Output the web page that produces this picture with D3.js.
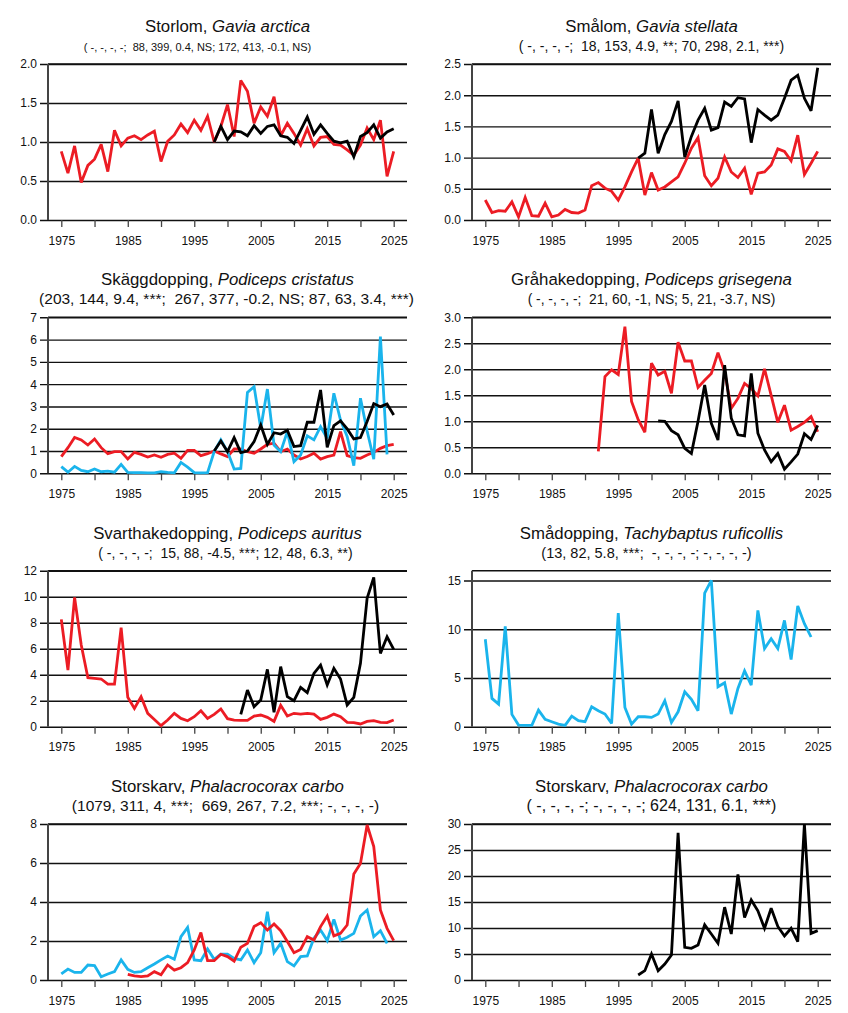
<!DOCTYPE html>
<html>
<head>
<meta charset="utf-8">
<script src="https://cdn.jsdelivr.net/npm/d3@7"></script>
<style>
  body { margin: 0; background: #fff; }
  svg { font-family: "Liberation Sans", Arial, sans-serif; }
  .sub { white-space: pre; }
</style>
</head>
<body>
<svg id="chart"></svg>
<script>
// colours used in the figure
const RED = "#ec1c24";
const BLUE = "#1ab4ec";
const BLACK = "#000";

// x ticks (every 5 years, labels every 10)
const xTicks = [1975, 1980, 1985, 1990, 1995, 2000, 2005, 2010, 2015, 2020, 2025];

// Storlom, Gavia arctica
const storlomRed = [0.88, 0.60, 0.95, 0.48, 0.70, 0.78, 0.97, 0.62, 1.15, 0.95, 1.05, 1.08, 1.03, 1.09, 1.14, 0.75, 1.01, 1.09, 1.23, 1.12, 1.28, 1.15, 1.33, 1.00, 1.20, 1.48, 1.07, 1.79, 1.65, 1.24, 1.45, 1.33, 1.58, 1.08, 1.24, 1.11, 0.96, 1.17, 0.95, 1.06, 1.07, 0.97, 0.96, 0.90, 0.83, 0.96, 1.18, 1.03, 1.28, 0.56, 0.88]; // 1975-
const storlomBlack = [1.00, 1.20, 1.03, 1.14, 1.13, 1.08, 1.21, 1.11, 1.20, 1.22, 1.08, 1.06, 0.98, 1.15, 1.32, 1.10, 1.22, 1.11, 1.01, 0.99, 1.01, 0.81, 1.07, 1.12, 1.22, 1.05, 1.13, 1.17]; // 1998-
const storlomTicks = [0, 0.5, 1, 1.5, 2];

// Smålom, Gavia stellata
const smalomRed = [0.32, 0.12, 0.15, 0.14, 0.29, 0.05, 0.36, 0.07, 0.06, 0.27, 0.05, 0.08, 0.17, 0.12, 0.11, 0.16, 0.55, 0.60, 0.51, 0.46, 0.32, 0.53, 0.77, 0.99, 0.40, 0.76, 0.48, 0.53, 0.61, 0.69, 0.91, 1.15, 1.32, 0.71, 0.55, 0.67, 1.01, 0.77, 0.68, 0.83, 0.41, 0.75, 0.77, 0.88, 1.14, 1.10, 0.95, 1.36, 0.73, 0.91, 1.10]; // 1975-
const smalomBlack = [0.99, 1.07, 1.77, 1.07, 1.37, 1.58, 1.91, 1.01, 1.34, 1.60, 1.79, 1.44, 1.48, 1.89, 1.82, 1.96, 1.94, 1.24, 1.77, 1.68, 1.60, 1.68, 1.95, 2.24, 2.32, 1.95, 1.75, 2.44]; // 1998-
const smalomTicks = [0, 0.5, 1, 1.5, 2, 2.5];

// Skäggdopping, Podiceps cristatus
const skaggRed = [0.75, 1.15, 1.61, 1.50, 1.27, 1.54, 1.15, 0.88, 0.97, 0.97, 0.64, 0.94, 0.85, 0.73, 0.82, 0.72, 0.85, 0.90, 0.67, 1.03, 1.03, 0.79, 0.88, 1.00, 0.87, 0.75, 1.09, 1.09, 0.97, 0.90, 1.09, 1.30, 1.35, 0.97, 1.09, 0.82, 0.64, 0.75, 0.90, 0.64, 0.75, 0.82, 1.87, 0.79, 0.70, 0.67, 0.82, 0.94, 1.12, 1.24, 1.30]; // 1975-
const skaggBlue = [0.30, 0.05, 0.31, 0.13, 0.07, 0.19, 0.07, 0.10, 0.05, 0.40, 0.04, 0.03, 0.03, 0.02, 0.02, 0.07, 0.04, 0.02, 0.49, 0.28, 0.03, 0.02, 0.03, 0.97, 1.50, 0.97, 0.19, 0.22, 3.63, 3.89, 2.02, 3.78, 1.27, 0.97, 1.87, 0.52, 0.82, 1.68, 1.50, 2.09, 1.57, 3.59, 2.39, 1.65, 0.34, 3.37, 1.90, 0.63, 6.13, 0.85]; // 1975-
const skaggBlack = [1.00, 1.45, 0.97, 1.60, 0.93, 1.00, 1.42, 2.17, 1.30, 1.82, 1.76, 1.93, 1.20, 1.24, 2.29, 2.29, 3.74, 1.17, 2.14, 2.35, 1.99, 1.54, 1.60, 2.32, 3.13, 2.99, 3.11, 2.62]; // 1998-
const skaggTicks = [0, 1, 2, 3, 4, 5, 6, 7];

// Gråhakedopping, Podiceps grisegena
const grahakeRed = [0.42, 1.86, 1.99, 1.90, 2.82, 1.38, 1.03, 0.79, 2.12, 1.89, 1.96, 1.54, 2.52, 2.16, 2.16, 1.65, 1.79, 1.92, 2.32, 1.95, 1.25, 1.44, 1.73, 1.63, 1.49, 2.01, 1.50, 0.98, 1.31, 0.83, 0.90, 0.98, 1.09, 0.80]; // 1992-
const grahakeBlack = [1.01, 1.00, 0.82, 0.74, 0.48, 0.38, 1.00, 1.70, 0.96, 0.64, 2.08, 1.06, 0.74, 0.72, 1.92, 0.77, 0.45, 0.22, 0.38, 0.08, 0.22, 0.37, 0.76, 0.65, 0.92]; // 2001-
const grahakeTicks = [0, 0.5, 1, 1.5, 2, 2.5, 3];

// Svarthakedopping, Podiceps auritus
const svartRed = [8.26, 4.36, 9.95, 6.28, 3.77, 3.72, 3.67, 3.28, 3.28, 7.62, 2.26, 1.41, 2.31, 1.03, 0.56, 0.08, 0.51, 1.03, 0.64, 0.46, 0.77, 1.23, 0.64, 0.95, 1.36, 0.62, 0.51, 0.49, 0.49, 0.82, 0.90, 0.72, 0.41, 1.64, 0.82, 1.03, 0.97, 1.03, 0.97, 0.56, 0.72, 0.97, 0.77, 0.33, 0.31, 0.21, 0.41, 0.46, 0.33, 0.31, 0.51]; // 1975-
const svartBlack = [0.95, 2.82, 1.54, 2.05, 4.41, 1.10, 4.62, 2.31, 2.00, 3.03, 2.62, 4.10, 4.74, 3.21, 4.49, 3.67, 1.67, 2.26, 4.87, 9.87, 11.49, 5.64, 6.92, 5.95]; // 2002-
const svartTicks = [0, 2, 4, 6, 8, 10, 12];

// Smådopping, Tachybaptus ruficollis
const smadopBlue = [8.97, 2.90, 2.32, 10.3, 1.26, 0.17, 0.14, 0.14, 1.70, 0.75, 0.51, 0.27, 0.14, 1.09, 0.61, 0.51, 2.05, 1.64, 1.30, 0.34, 11.66, 1.98, 0.27, 1.02, 1.02, 0.95, 1.30, 2.66, 0.44, 1.53, 3.58, 2.80, 1.64, 13.7, 15.0, 4.09, 4.50, 1.30, 3.92, 5.73, 4.26, 11.93, 8.01, 9.03, 8.01, 10.9, 6.89, 12.38, 10.57, 9.20]; // 1975-
const smadopTicks = [0, 5, 10, 15];

// Storskarv, Phalacrocorax carbo (left)
const skarvBlue = [0.31, 0.56, 0.39, 0.39, 0.77, 0.74, 0.17, 0.31, 0.43, 1.03, 0.55, 0.39, 0.43, 0.63, 0.82, 1.03, 1.23, 1.06, 2.22, 2.70, 1.03, 0.99, 1.59, 1.06, 1.33, 1.32, 1.11, 1.03, 1.54, 0.89, 1.40, 3.50, 1.40, 1.88, 0.94, 0.72, 1.20, 1.23, 2.14, 2.56, 2.02, 3.11, 2.05, 2.19, 2.39, 3.28, 3.59, 2.22, 2.53, 1.88]; // 1975-
const skarvRed = [0.29, 0.21, 0.17, 0.21, 0.43, 0.27, 0.77, 0.51, 0.63, 0.89, 1.54, 2.43, 0.99, 0.99, 1.32, 1.20, 0.97, 1.68, 1.88, 2.74, 2.94, 2.56, 2.87, 2.53, 1.97, 1.40, 1.57, 2.22, 2.05, 2.74, 3.28, 2.26, 2.39, 2.82, 5.44, 5.98, 7.95, 6.84, 3.59, 2.65, 2.02]; // 1985-
const skarvTicks = [0, 2, 4, 6, 8];

// Storskarv, Phalacrocorax carbo (right)
const skarv2Black = [0.96, 1.79, 5.0, 1.79, 3.08, 4.8, 28.3, 6.28, 6.09, 6.73, 10.6, 8.85, 7.05, 14.0, 8.85, 20.3, 12.0, 15.4, 13.3, 9.94, 13.8, 10.3, 8.46, 9.94, 7.37, 30.0, 8.97, 9.49]; // 1998-
const skarv2Ticks = [0, 5, 10, 15, 20, 25, 30];

const panels = [
  { name: "Storlom", latin: "Gavia arctica", stats: "( -, -, -, -;  88, 399, 0.4, NS; 172, 413, -0.1, NS)", subDx: -30, subSize: 11,
    yMax: 2, ticks: storlomTicks, fmt: ".1f",
    series: [{ start: 1975, values: storlomRed, color: RED }, { start: 1998, values: storlomBlack, color: BLACK }] },
  { name: "Smålom", latin: "Gavia stellata", stats: "( -, -, -, -;  18, 153, 4.9, **; 70, 298, 2.1, ***)", subDx: 0, subSize: 14,
    yMax: 2.5, ticks: smalomTicks, fmt: ".1f",
    series: [{ start: 1975, values: smalomRed, color: RED }, { start: 1998, values: smalomBlack, color: BLACK }] },
  { name: "Skäggdopping", latin: "Podiceps cristatus", stats: "(203, 144, 9.4, ***;  267, 377, -0.2, NS; 87, 63, 3.4, ***)", subDx: -1, subSize: 15.5,
    yMax: 7, ticks: skaggTicks, fmt: "d",
    series: [{ start: 1975, values: skaggRed, color: RED }, { start: 1975, values: skaggBlue, color: BLUE }, { start: 1998, values: skaggBlack, color: BLACK }] },
  { name: "Gråhakedopping", latin: "Podiceps grisegena", stats: "( -, -, -, -;  21, 60, -1, NS; 5, 21, -3.7, NS)", subDx: 0, subSize: 13.8,
    yMax: 3, ticks: grahakeTicks, fmt: ".1f",
    series: [{ start: 1992, values: grahakeRed, color: RED }, { start: 2001, values: grahakeBlack, color: BLACK }] },
  { name: "Svarthakedopping", latin: "Podiceps auritus", stats: "( -, -, -, -;  15, 88, -4.5, ***; 12, 48, 6.3, **)", subDx: -2, subSize: 14,
    yMax: 12, ticks: svartTicks, fmt: "d",
    series: [{ start: 1975, values: svartRed, color: RED }, { start: 2002, values: svartBlack, color: BLACK }] },
  { name: "Smådopping", latin: "Tachybaptus ruficollis", stats: "(13, 82, 5.8, ***;  -, -, -, -; -, -, -, -)", subDx: -5, subSize: 14.5,
    yMax: 16, ticks: smadopTicks, fmt: "d",
    series: [{ start: 1975, values: smadopBlue, color: BLUE }] },
  { name: "Storskarv", latin: "Phalacrocorax carbo", stats: "(1079, 311, 4, ***;  669, 267, 7.2, ***; -, -, -, -)", subDx: -2, subSize: 15.5,
    yMax: 8, ticks: skarvTicks, fmt: "d",
    series: [{ start: 1975, values: skarvBlue, color: BLUE }, { start: 1985, values: skarvRed, color: RED }] },
  { name: "Storskarv", latin: "Phalacrocorax carbo", stats: "( -, -, -, -; -, -, -, -; 624, 131, 6.1, ***)", subDx: 0, subSize: 16,
    yMax: 30, ticks: skarv2Ticks, fmt: "d",
    series: [{ start: 1998, values: skarv2Black, color: BLACK }] }
];

const W = 848, H = 1013;
const colX = [48, 472];     // y-axis position of each column
const plotW = 359;
const rowY = [64, 317.3, 570.7, 824]; // top of each plot
const plotH = 156;

const svg = d3.select("#chart").attr("width", W).attr("height", H);
svg.append("rect").attr("width", W).attr("height", H).attr("fill", "#fff");

panels.forEach((p, i) => {
  const left = colX[i % 2];
  const top = rowY[Math.floor(i / 2)];

  const x = d3.scaleLinear().domain([1973, 2027]).range([0, plotW]);
  const y = d3.scaleLinear().domain([0, p.yMax]).range([plotH, 0]);

  const g = svg.append("g").attr("transform", `translate(${left},${top})`);

  // title + stats line
  const t = g.append("text")
    .attr("x", plotW / 2).attr("y", -32)
    .attr("text-anchor", "middle")
    .style("font-size", "16.8px").attr("fill", "#111");
  t.append("tspan").text(p.name + ", ");
  t.append("tspan").style("font-style", "italic").text(p.latin);

  g.append("text").attr("class", "sub")
    .attr("x", plotW / 2 + p.subDx).attr("y", -13)
    .attr("text-anchor", "middle")
    .style("font-size", p.subSize + "px").attr("fill", "#111")
    .text(p.stats);

  // horizontal gridlines with the y labels
  const grid = g.append("g")
    .attr("transform", "translate(-8,0)")
    .call(d3.axisLeft(y).tickValues(p.ticks).tickFormat(d3.format(p.fmt))
      .tickSizeInner(-(plotW + 8)).tickSizeOuter(0).tickPadding(3));
  grid.select(".domain").remove();
  grid.selectAll(".tick line").attr("stroke", "#111").attr("stroke-width", 1.4);
  grid.selectAll(".tick text").style("font-size", "12px").attr("fill", "#111")
    .style("font-family", "Liberation Sans, Arial, sans-serif");

  // top frame line
  g.append("line").attr("x1", 0).attr("x2", plotW)
    .attr("y1", y(p.yMax)).attr("y2", y(p.yMax))
    .attr("stroke", "#111").attr("stroke-width", 1.4);

  // x axis ticks and year labels
  const xa = g.append("g")
    .attr("transform", `translate(0,${plotH})`)
    .call(d3.axisBottom(x).tickValues(xTicks)
      .tickFormat(d => (d - 1975) % 10 === 0 ? d : "")
      .tickSizeInner(7).tickSizeOuter(0).tickPadding(9));
  xa.select(".domain").remove();
  xa.selectAll(".tick line").attr("stroke", "#444").attr("stroke-width", 1.3);
  xa.selectAll(".tick text").style("font-size", "12px").attr("fill", "#111")
    .style("font-family", "Liberation Sans, Arial, sans-serif");

  // vertical y axis line
  g.append("line").attr("x1", 0).attr("x2", 0).attr("y1", 0).attr("y2", plotH)
    .attr("stroke", "#444").attr("stroke-width", 2);

  const line = d3.line()
    .x(d => x(d.year))
    .y(d => y(d.v));

  p.series.forEach(s => {
    const pts = s.values.map((v, k) => ({ year: s.start + k, v: v }));
    g.append("path")
      .datum(pts)
      .attr("d", line)
      .attr("fill", "none")
      .attr("stroke", s.color)
      .attr("stroke-width", 2.8)
      .attr("stroke-linejoin", "miter")
      .attr("stroke-miterlimit", 3);
  });
});
</script>
</body>
</html>
